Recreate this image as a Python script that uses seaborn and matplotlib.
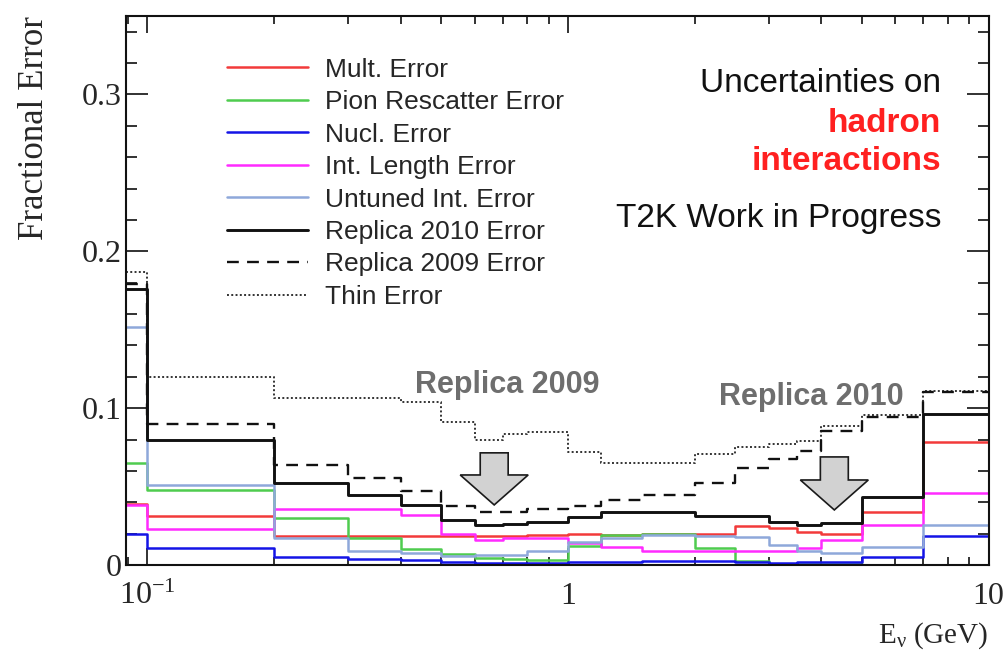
import numpy as np
import pandas as pd
import matplotlib
matplotlib.use("Agg")
import matplotlib.pyplot as plt
from matplotlib.patches import Polygon
from matplotlib.ticker import FixedLocator, MultipleLocator, LogLocator, NullFormatter, FixedFormatter
import seaborn as sns

# Neutrino energy bin edges (GeV)
edges = [0.0, 0.1, 0.2, 0.3, 0.4, 0.5, 0.6, 0.7, 0.8, 1.0, 1.2, 1.5,
         2.0, 2.5, 3.0, 3.5, 4.0, 5.0, 7.0, 10.0]

# Fractional error per bin
mult_err = [0.039, 0.031, 0.0186, 0.0184, 0.0184, 0.0186, 0.0184, 0.0186, 0.019, 0.0195,
            0.019, 0.0195, 0.0195, 0.0248, 0.0237, 0.0211, 0.020, 0.0335, 0.0787]
pion_err = [0.065, 0.0476, 0.0300, 0.017, 0.0104, 0.0068, 0.0042, 0.004, 0.0034, 0.0123,
            0.019, 0.0195, 0.011, 0.0025, 0.0006, 0.0004, 0.0004, 0.0003, 0.0003]
nucl_err = [0.0195, 0.0106, 0.0053, 0.0038, 0.0032, 0.002, 0.0015, 0.0015, 0.0015, 0.002,
            0.002, 0.0025, 0.0025, 0.002, 0.0012, 0.002, 0.002, 0.0053, 0.0186]
intlen_err = [0.038, 0.0229, 0.0354, 0.036, 0.0317, 0.020, 0.0162, 0.017, 0.017, 0.014,
              0.0116, 0.0088, 0.0088, 0.0089, 0.0092, 0.0106, 0.0159, 0.0254, 0.0462]
untuned_err = [0.152, 0.0512, 0.0175, 0.0089, 0.0078, 0.0058, 0.0063, 0.0063, 0.0091, 0.0148,
               0.0172, 0.019, 0.0184, 0.018, 0.0125, 0.0091, 0.0078, 0.0116, 0.0254]
replica2010_err = [0.176, 0.080, 0.052, 0.0444, 0.038, 0.0286, 0.0254, 0.026, 0.0275, 0.0307,
                   0.0338, 0.0340, 0.031, 0.031, 0.0277, 0.0258, 0.0265, 0.0434, 0.0963]
replica2009_err = [0.179, 0.090, 0.0635, 0.0557, 0.047, 0.0377, 0.034, 0.034, 0.0356, 0.0377,
                   0.0414, 0.0446, 0.052, 0.0616, 0.0677, 0.0726, 0.0857, 0.0945, 0.110]
thin_err = [0.187, 0.120, 0.1063, 0.1063, 0.1036, 0.0912, 0.0795, 0.0838, 0.0848, 0.0723,
            0.0652, 0.0648, 0.0707, 0.0750, 0.0774, 0.0789, 0.0888, 0.0955, 0.1108]

labels = ["Mult. Error", "Pion Rescatter Error", "Nucl. Error", "Int. Length Error",
          "Untuned Int. Error", "Replica 2010 Error", "Replica 2009 Error", "Thin Error"]

x_ticks = [0.1, 1, 10]
x_tick_labels = [r"$\mathregular{10^{-1}}$", "1", "10"]
y_ticks = [0.0, 0.1, 0.2, 0.3]
y_tick_labels = ["0", "0.1", "0.2", "0.3"]

XMIN, XMAX = 0.089, 10.0
YMIN, YMAX = 0.0, 0.35

series = [
    (mult_err, dict(color="#f23a3a", lw=1.8, ls="-")),
    (pion_err, dict(color="#4fcc4f", lw=1.8, ls="-")),
    (nucl_err, dict(color="#1414e6", lw=1.8, ls="-")),
    (intlen_err, dict(color="#ff2bff", lw=1.8, ls="-")),
    (untuned_err, dict(color="#8ea8da", lw=1.8, ls="-")),
    (replica2010_err, dict(color="#111111", lw=2.1, ls="-")),
    (replica2009_err, dict(color="#111111", lw=1.7, ls=(0, (5, 3.5)))),
    (thin_err, dict(color="#333333", lw=1.4, ls=(0, (1, 1.2)))),
]

sns.set_theme(style="ticks")
plt.rcParams["font.family"] = ["Liberation Sans", "DejaVu Sans"]

fig = plt.figure(figsize=(10.07, 6.53), dpi=100)
ax = fig.add_axes([126 / 1007, 1 - 565 / 653, 862.5 / 1007, 549 / 653])
ax.set_xscale("log")

x_steps = np.maximum(np.array(edges), XMIN)
handles = {}
draw_order = [0, 1, 2, 3, 4, 7, 6, 5]
for i in draw_order:
    vals, st = series[i]
    df = pd.DataFrame({"E": x_steps, "err": list(vals) + [vals[-1]]})
    sns.lineplot(data=df, x="E", y="err", ax=ax, estimator=None, sort=False,
                 drawstyle="steps-post", color=st["color"], linewidth=st["lw"],
                 linestyle=st["ls"], label=labels[i])
    handles[i] = ax.lines[-1]

ax.set_xlim(XMIN, XMAX)
ax.set_ylim(YMIN, YMAX)

# Axis ticks in the ROOT style: inside, on all four sides
serif = "Liberation Serif"
ax.xaxis.set_major_locator(FixedLocator(x_ticks))
ax.xaxis.set_major_formatter(FixedFormatter(x_tick_labels))
ax.xaxis.set_minor_locator(LogLocator(base=10, subs=np.arange(2, 10)))
ax.xaxis.set_minor_formatter(NullFormatter())
ax.yaxis.set_major_locator(FixedLocator(y_ticks))
ax.yaxis.set_major_formatter(FixedFormatter(y_tick_labels))
ax.yaxis.set_minor_locator(MultipleLocator(0.02))
ax.tick_params(which="both", direction="in", top=True, right=True, width=1.3, color="#222222")
ax.tick_params(axis="y", which="major", length=16, pad=3)
ax.tick_params(axis="y", which="minor", length=8)
ax.tick_params(axis="x", which="major", length=12, pad=12)
ax.tick_params(axis="x", which="minor", length=6)
for lab in ax.get_xticklabels() + ax.get_yticklabels():
    lab.set_fontfamily(serif)
    lab.set_fontsize(23)
for sp in ax.spines.values():
    sp.set_linewidth(1.5)
    sp.set_color("#111111")

ax.set_xlabel(r"$\mathregular{E_{\nu}}$ (GeV)", fontfamily=serif, fontsize=21, loc="right", labelpad=7)
ax.set_ylabel("Fractional Error", fontfamily=serif, fontsize=25, loc="top", labelpad=22)

leg = ax.legend(handles=[handles[i] for i in range(8)], labels=labels,
                loc="upper left", bbox_to_anchor=(0.117, 0.924), frameon=False,
                fontsize=19, handlelength=3.07, handletextpad=0.64, labelspacing=0.32,
                borderpad=0, borderaxespad=0)

# Text annotations
ax.text(0.945, 0.8616, "Uncertainties on", transform=ax.transAxes, ha="right", va="baseline",
        fontsize=24, color="#111111")
ax.text(0.945, 0.789, "hadron", transform=ax.transAxes, ha="right", va="baseline",
        fontsize=24, color="#ff2020", fontweight="bold")
ax.text(0.945, 0.7195, "interactions", transform=ax.transAxes, ha="right", va="baseline",
        fontsize=24, color="#ff2020", fontweight="bold")
ax.text(0.945, 0.616, "T2K Work in Progress", transform=ax.transAxes, ha="right", va="baseline",
        fontsize=24, color="#111111")

ax.text(0.7175, 0.1149, "Replica 2009", ha="center", va="center", fontsize=22,
        fontweight="bold", color="#6e6e6e")
ax.text(3.785, 0.1072, "Replica 2010", ha="center", va="center", fontsize=22,
        fontweight="bold", color="#6e6e6e")


def block_arrow(x_center, y_top, y_neck, y_tip, shaft_half=0.0162, head_half=0.0394):
    to_axes = ax.transAxes.inverted()
    xc, yt = to_axes.transform(ax.transData.transform((x_center, y_top)))
    _, yn = to_axes.transform(ax.transData.transform((x_center, y_neck)))
    _, yp = to_axes.transform(ax.transData.transform((x_center, y_tip)))
    pts = [(xc - shaft_half, yt), (xc + shaft_half, yt), (xc + shaft_half, yn),
           (xc + head_half, yn), (xc, yp), (xc - head_half, yn), (xc - shaft_half, yn)]
    ax.add_patch(Polygon(pts, closed=True, transform=ax.transAxes, facecolor="#d2d2d2",
                         edgecolor="#1a1a1a", linewidth=1.2, zorder=5))


block_arrow(0.668, 0.0715, 0.0574, 0.0383)
block_arrow(4.30, 0.0689, 0.0542, 0.0351)

fig.savefig("out.png", dpi=100)
